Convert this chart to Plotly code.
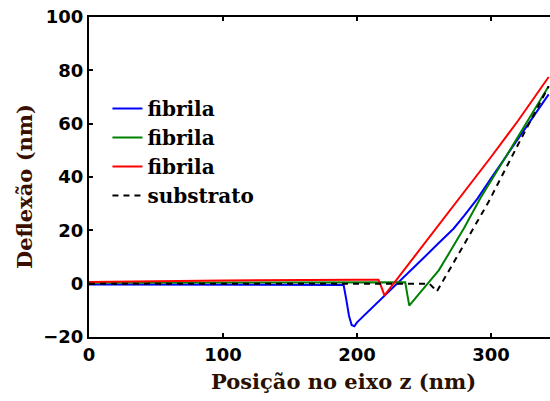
import plotly.graph_objects as go

# Data
x_blue = [0, 50, 100, 150, 190, 192, 194, 196, 198, 200, 210, 220, 230, 240, 250, 260, 272, 280, 290, 300, 320, 343]
y_blue = [-0.3, -0.4, -0.4, -0.5, -0.5, -6, -12, -15.5, -16, -14.5, -9.7, -4.9, 0, 4.9, 9.8, 14.8, 20.6, 25.5, 32, 39.5, 54, 71]

x_green = [0, 100, 200, 236, 237.5, 239, 245, 250, 261, 270, 280, 292, 300, 320, 343]
y_green = [0.3, 0.5, 0.6, 0.5, -4, -8.2, -4.6, -1.6, 5, 12.5, 21, 32, 38.5, 55, 74]

x_red = [0, 100, 200, 216, 218, 220.5, 230, 250, 277, 300, 320, 343]
y_red = [0.6, 1.2, 1.5, 1.5, -1, -4.4, 1.8, 14.8, 32.3, 47.5, 61, 77.5]

x_sub = [0, 254, 257, 259.5, 270, 280, 298, 320, 343]
y_sub = [0, 0, -1.5, -3, 6.1, 14.8, 30.5, 52, 74]

x_ticks = [0, 100, 200, 300]
y_ticks = [-20, 0, 20, 40, 60, 80, 100]

names = ["fibrila", "fibrila", "fibrila", "substrato"]

fig = go.Figure()
fig.add_trace(go.Scatter(x=x_blue, y=y_blue, mode="lines", name=names[0],
                         line=dict(color="#0000ff", width=2)))
fig.add_trace(go.Scatter(x=x_green, y=y_green, mode="lines", name=names[1],
                         line=dict(color="#008000", width=2)))
fig.add_trace(go.Scatter(x=x_red, y=y_red, mode="lines", name=names[2],
                         line=dict(color="#ff0000", width=2)))
fig.add_trace(go.Scatter(x=x_sub, y=y_sub, mode="lines", name=names[3],
                         line=dict(color="#000000", width=2, dash="6px,5px")))

tickfont = dict(family="DejaVu Sans", size=18, color="black", weight="bold")
fig.update_layout(
    width=550, height=401,
    margin=dict(l=89, r=0, t=17, b=64),
    paper_bgcolor="white", plot_bgcolor="white",
    showlegend=True,
    legend=dict(x=0.04, y=0.775, xanchor="left", yanchor="top",
                bgcolor="rgba(0,0,0,0)", borderwidth=0,
                font=dict(family="DejaVu Serif", size=20, color="black", weight="bold")),
    xaxis=dict(range=[0, 344], tickvals=x_ticks, showgrid=False, zeroline=False,
               showline=True, linecolor="black", linewidth=2, mirror="ticks",
               ticks="inside", ticklen=4, tickwidth=2, tickcolor="black",
               tickfont=tickfont),
    yaxis=dict(range=[-20, 100], tickvals=y_ticks, showgrid=False, zeroline=False,
               showline=True, linecolor="black", linewidth=2,
               ticks="inside", ticklen=4, tickwidth=2, tickcolor="black",
               tickfont=tickfont),
    annotations=[
        dict(text="Posição no eixo z (nm)", xref="paper", yref="paper",
             x=(343 - 89) / 461, y=(337 - 381) / 320, xanchor="center", yanchor="middle",
             showarrow=False,
             font=dict(family="DejaVu Serif", size=21, color="#2a1000", weight="bold")),
        dict(text="Deflexão (nm)", xref="paper", yref="paper", textangle=-90,
             x=(24 - 89) / 461, y=(337 - 187) / 320, xanchor="center", yanchor="middle",
             showarrow=False,
             font=dict(family="DejaVu Serif", size=21, color="#3a0f00", weight="bold")),
    ],
)

fig.write_html("out.html")
